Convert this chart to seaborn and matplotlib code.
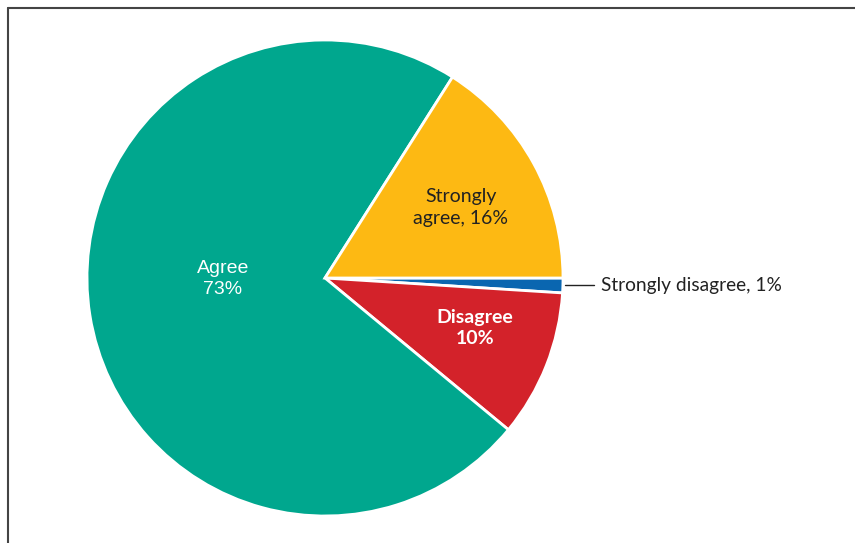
import numpy as np
import pandas as pd
import seaborn as sns
import matplotlib.pyplot as plt
from matplotlib.lines import Line2D

categories = ["Strongly disagree", "Disagree", "Agree", "Strongly agree"]
shares = [1, 10, 73, 16]
colors = ["#0a66b0", "#d3222a", "#00a78e", "#fdb913"]

sns.set_theme(style="white")
plt.rcParams['font.family'] = ['Lato', 'DejaVu Sans']

fig = plt.figure(figsize=(8.55, 5.43), dpi=100)
ax = fig.add_axes([0, 0, 1, 1])

wedges, _ = ax.pie(shares, colors=colors, startangle=0, counterclock=False,
                   radius=1, center=(0, 0),
                   wedgeprops=dict(edgecolor="white", linewidth=2))

# pixel scale: radius 238 px, centre at (325, 278) from top-left
r = 238
ax.set_xlim(-325 / r, (855 - 325) / r)
ax.set_ylim(-(543 - 278) / r, 278 / r)
ax.set_aspect("auto")
ax.axis("off")

ax.text(-0.43, -0.005, "Agree\n73%", color="white", fontsize=14,
        ha="center", va="center", family=["Liberation Sans"], linespacing=1.3)
ax.text(0.57, 0.295, "Strongly\nagree, 16%", color="#222222", fontsize=14,
        ha="center", va="center", linespacing=1.35)
ax.text(0.63, -0.21, "Disagree\n10%", color="white", fontsize=14,
        ha="center", va="center", fontweight="bold", linespacing=1.3)

# strongly disagree callout
ang = np.deg2rad(-1.8)
ax.plot([np.cos(ang) + 0.01, 1.13], [np.sin(ang), np.sin(ang)],
        color="#222222", lw=1)
ax.text(1.16, np.sin(ang), "Strongly disagree, 1%", color="#222222",
        fontsize=13.8, ha="left", va="center")

# frame on top and left
fig.add_artist(Line2D([8 / 855, 8 / 855], [0, 1 - 8 / 543],
                      transform=fig.transFigure, color="#444444", lw=1.5))
fig.add_artist(Line2D([8 / 855, 1], [1 - 8 / 543, 1 - 8 / 543],
                      transform=fig.transFigure, color="#444444", lw=1.5))

fig.savefig("out.png", dpi=100)
